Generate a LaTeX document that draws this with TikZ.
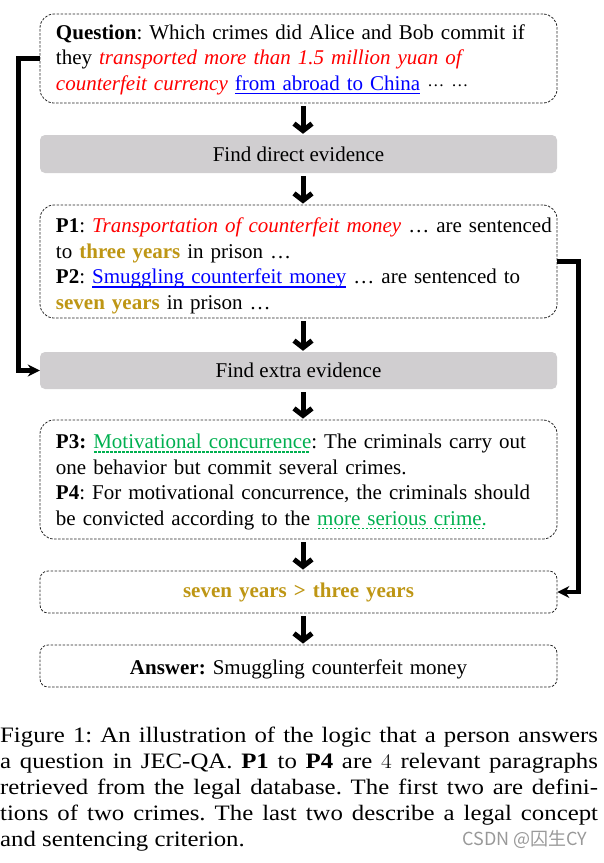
\documentclass[tikz,border=0pt]{standalone}
\usepackage{fontspec}
\usepackage{graphicx}
\setmainfont{Liberation Serif}
\newfontfamily\cjkfont{Noto Sans CJK SC}
\usetikzlibrary{arrows.meta}

\definecolor{crimeRed}{RGB}{255,0,0}
\definecolor{linkBlue}{RGB}{0,0,255}
\definecolor{yearGold}{RGB}{190,150,20}
\definecolor{conceptGreen}{RGB}{0,176,80}
\definecolor{barGray}{RGB}{208,206,208}

% underlines (solid and dashed)
\newcommand\solidunder[1]{\setbox0\hbox{#1}\rlap{\vrule height -2.6pt depth 3.8pt width \wd0}\box0}
\newcommand\dashunder[1]{\setbox0\hbox{#1}\rlap{\hbox to \wd0{\leaders\hbox to 4pt{\hss\vrule height -2.6pt depth 3.8pt width 2.5pt\hss}\hfill}}\box0}
\newcommand\middots{{\fontsize{17}{17}\selectfont\raisebox{4pt}{… …}}}
\newcommand\toplift[1]{\rule{0pt}{#1}}

\tikzset{
  textbox/.style={draw=black!85, line width=0.8pt, dash pattern=on 2.5pt off 1.5pt,
    rounded corners=14pt, minimum width=517pt, text width=485pt, align=left, inner sep=0pt},
  smallbox/.style={textbox, rounded corners=8pt, align=center},
  stepbar/.style={fill=barGray, rounded corners=5pt, minimum width=517pt,
    minimum height=38pt, inner sep=0pt},
  flow/.style={line width=5pt, -{Straight Barb[length=7pt,width=18pt]},
    shorten <=3pt, shorten >=1pt},
  side/.style={line width=4.5pt, -{Stealth[length=12pt,width=12pt]}, rounded corners=0pt}
}

\begin{document}
\frenchspacing
\begin{tikzpicture}[x=1pt,y=-1pt,font=\fontsize{21}{25.5}\selectfont]
  \useasboundingbox (0,0) rectangle (604,863);

  \node[textbox, minimum height=89pt] (question) at (298.5,58.5)
    {\toplift{17.5pt}\textbf{Question}: Which crimes did Alice and Bob commit if\\
     they {\color{crimeRed}\textit{transported more than 1.5 million yuan of}}\\
     {\color{crimeRed}\textit{counterfeit currency}} {\color{linkBlue}\solidunder{from abroad to China}} \middots};
  \node[stepbar] (direct) at (298.5,154) {Find direct evidence};
  \node[textbox, minimum height=113pt] (crimes) at (298.5,261.5)
    {\toplift{23.5pt}\mbox{\textbf{P1}: {\color{crimeRed}\textit{Transportation of counterfeit money}} … are sentenced}\\
     to {\color{yearGold}\textbf{three years}} in prison …\\
     \textbf{P2}: {\color{linkBlue}\solidunder{Smuggling counterfeit money}} … are sentenced to\\
     {\color{yearGold}\textbf{seven years}} in prison …};
  \node[stepbar, minimum height=37pt] (extra) at (298.5,370.5) {Find extra evidence};
  \node[textbox, minimum height=119pt] (concept) at (298.5,479.5)
    {\toplift{19.5pt}\textbf{P3:} {\color{conceptGreen}\dashunder{Motivational concurrence}}: The criminals carry out\\
     one behavior but commit several crimes.\\
     \textbf{P4}: For motivational concurrence, the criminals should\\
     be convicted according to the {\color{conceptGreen}\dashunder{more serious crime.}}};
  \node[smallbox, minimum height=42pt] (compare) at (298.5,592)
    {\color{yearGold}\textbf{seven years > three years}};
  \node[smallbox, minimum height=42pt] (answer) at (298.5,666)
    {\toplift{22.5pt}\textbf{Answer:} Smuggling counterfeit money};

  % main flow
  \draw[flow] ([xshift=4.5pt]question.south) -- ([xshift=4.5pt]direct.north);
  \draw[flow] ([xshift=4.5pt]direct.south) -- ([xshift=4.5pt]crimes.north);
  \draw[flow] ([xshift=4.5pt]crimes.south) -- ([xshift=4.5pt]extra.north);
  \draw[flow] ([xshift=4.5pt]extra.south) -- ([xshift=4.5pt]concept.north);
  \draw[flow] ([xshift=4.5pt]concept.south) -- ([xshift=4.5pt]compare.north);
  \draw[flow] ([xshift=4.5pt]compare.south) -- ([xshift=4.5pt]answer.north);

  % side links
  \draw[side] (question.west) -- ++(-21,0) |- (extra.west);
  \draw[side] (crimes.east) -- ++(21,0) |- (compare.east);

  % caption
  \node[anchor=base west, inner sep=0pt] (caption) at (0,742)
    {\scalebox{1.128}[1]{\parbox[t]{530pt}{\fontsize{22}{26}\selectfont
     Figure 1: An illustration of the logic that a person answers\linebreak
     a question in JEC-QA. \textbf{P1} to \textbf{P4} are $4$ relevant paragraphs\linebreak
     retrieved from the legal database. The first two are defini-\linebreak
     tions of two crimes. The last two describe a legal concept\linebreak
     and sentencing criterion.}}};
  \node[anchor=base east, text=black!40, font=\cjkfont\fontsize{18}{20}\selectfont]
    (mark) at (591,845) {CSDN @囚生CY};
\end{tikzpicture}
\end{document}
